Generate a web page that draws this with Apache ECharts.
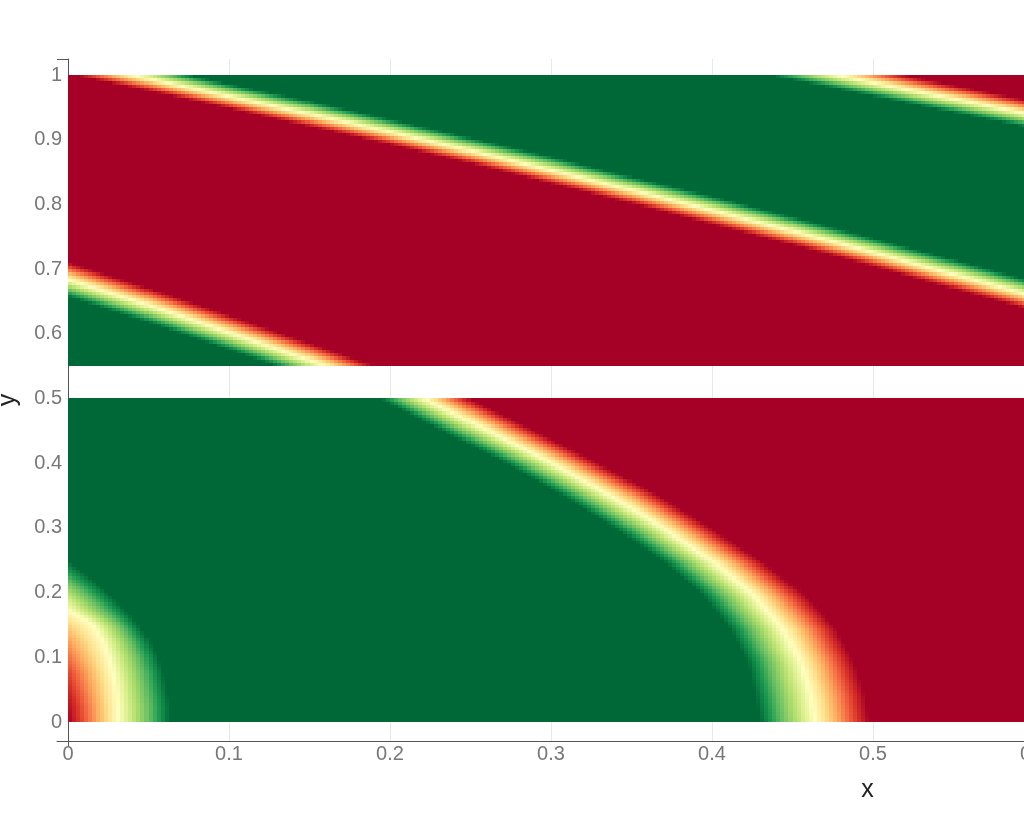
<!DOCTYPE html>
<html>
<head>
<meta charset="utf-8">
<script src="https://cdn.jsdelivr.net/npm/echarts@6/dist/echarts.min.js"></script>
<style>
html,body{margin:0;padding:0;background:#fff;}
#chart{width:1024px;height:819px;}
</style>
</head>
<body>
<div id="chart"></div>
<script>
// ---- tick labels ----
const xTickValues = [0, 0.1, 0.2, 0.3, 0.4, 0.5, 0.6, 0.7, 0.8, 0.9, 1];
const yTickValues = [0, 0.1, 0.2, 0.3, 0.4, 0.5, 0.6, 0.7, 0.8, 0.9, 1];

// ---- lower panel (y 0..0.5): outer band, yellow crossing x per row ----
const outerY      = [0, 0.041, 0.093, 0.144, 0.196, 0.247, 0.299, 0.350, 0.402, 0.454, 0.5];
const outerX      = [0.464, 0.461, 0.455, 0.444, 0.426, 0.401, 0.370, 0.337, 0.299, 0.258, 0.221];
const outerHalfW  = [0.034, 0.034, 0.033, 0.033, 0.032, 0.031, 0.030, 0.030, 0.029, 0.029, 0.028];

// ---- lower panel: inner corner ring ----
const innerY      = [0, 0.025, 0.05, 0.075, 0.1, 0.125, 0.15, 0.173, 0.2, 0.225, 0.25];
const innerX      = [0.0313, 0.031, 0.030, 0.0282, 0.0255, 0.0216, 0.0156, 0, null, null, null];
const innerGreenX = [0.063, 0.063, 0.061, 0.059, 0.056, 0.051, 0.044, 0.036, 0.025, 0.013, 0];
const innerZ0     = [-1, -0.95, -0.85, -0.75, -0.6, -0.45, -0.25, 0, 0.35, 0.7, 1];

// ---- upper panel (y 0.55..1): band yellow crossings y per column ----
const topX       = [0, 0.05, 0.1, 0.15, 0.2, 0.25, 0.3, 0.35, 0.4, 0.45, 0.5, 0.55, 0.6];
const bandAY     = [0.684, 0.644, 0.602, 0.559, 0.515, 0.47, null, null, null, null, null, null, null];
const bandBY     = [1.020, 0.994, 0.967, 0.940, 0.912, 0.883, 0.853, 0.822, 0.791, 0.759, 0.726, 0.692, 0.658];
const bandCY     = [null, null, null, null, null, null, null, null, 1.038, 1.013, 0.988, 0.963, 0.938];
const bandBHalfW = [0.019, 0.019, 0.019, 0.020, 0.020, 0.020, 0.021, 0.021, 0.022, 0.022, 0.022, 0.023, 0.023];
const bandAHalfW = 0.027;
const bandCHalfW = 0.021;

// panel extents
const lowerRange = [0, 0.5];
const upperRange = [0.55, 1];
const xRange = [0, 0.6];

// ---- colour scale (RdYlGn) ----
const colorStops = ['#a50026','#d73027','#f46d43','#fdae61','#fee08b','#ffffbf',
                    '#d9ef8b','#a6d96a','#66bd63','#1a9850','#006837'];

// ---- helpers building the cell table from the read arrays ----
function interp(xs, ys, v) {
  if (v <= xs[0]) return ys[0];
  for (let i = 0; i < xs.length - 1; i++) {
    if (v <= xs[i + 1]) {
      const a = ys[i], b = ys[i + 1];
      if (a === null || b === null) return null;
      const t = (v - xs[i]) / (xs[i + 1] - xs[i]);
      return a + (b - a) * t;
    }
  }
  return ys[ys.length - 1];
}
function clamp(v) { return Math.max(-1, Math.min(1, v)); }

function lowerZ(x, y) {
  const xo = interp(outerY, outerX, y);
  const wo = interp(outerY, outerHalfW, y);
  const zo = clamp((xo - x) / wo);
  let zi = 1;
  if (y <= innerY[innerY.length - 1]) {
    const z0 = interp(innerY, innerZ0, y);
    const xg = interp(innerY, innerGreenX, y);
    const xi = interp(innerY, innerX, y);
    if (x >= xg) zi = 1;
    else if (xi !== null && xi > 0) {
      zi = x < xi ? z0 + (0 - z0) * (x / xi) : (x - xi) / (xg - xi);
    } else {
      zi = z0 + (1 - z0) * (x / xg);
    }
  }
  return Math.min(zi, zo);
}
function upperZ(x, y) {
  const a = interp(topX, bandAY, x);
  const b = interp(topX, bandBY, x);
  const c = interp(topX, bandCY, x);
  const wb = interp(topX, bandBHalfW, x);
  if (a !== null && y < (a + b) / 2) return clamp((a - y) / bandAHalfW);
  if (c === null || y < (b + c) / 2) return clamp((y - b) / wb);
  return clamp((c - y) / bandCHalfW);
}

const DX = 0.0025, DY = 0.005;
const cells = [];
function addPanel(yr, fn) {
  const nx = Math.round((xRange[1] - xRange[0]) / DX);
  const ny = Math.round((yr[1] - yr[0]) / DY);
  const xe = [], ye = [];
  for (let i = 0; i <= nx; i++) xe.push(xRange[0] + i * DX);
  for (let j = 0; j <= ny; j++) ye.push(yr[0] + j * DY);
  for (let j = 0; j < ny; j++) {
    for (let i = 0; i < nx; i++) {
      cells.push([xe[i], ye[j], fn((xe[i] + xe[i + 1]) / 2, (ye[j] + ye[j + 1]) / 2), xe[i + 1], ye[j + 1]]);
    }
  }
}
addPanel(lowerRange, lowerZ);
addPanel(upperRange, upperZ);

// ---- chart ----
const PX_PER_X = 1610, PX_PER_Y = 647;
const xMin = -11 / PX_PER_X, xMax = 1;
const yMin = -19 / PX_PER_Y, yMax = 1 + 16 / PX_PER_Y;
const FONT = '"Liberation Sans", Arial, Helvetica, sans-serif';

const chart = echarts.init(document.getElementById('chart'), null, {renderer: 'canvas'});
chart.setOption({
  animation: false,
  backgroundColor: '#ffffff',
  grid: {left: 57, top: 59, width: Math.round((xMax - xMin) * PX_PER_X), height: 682,
         containLabel: false, outerBoundsMode: 'none'},
  visualMap: {
    type: 'continuous', show: false, min: -1, max: 1, dimension: 2, seriesIndex: 0,
    inRange: {color: colorStops}
  },
  xAxis: [{
    type: 'value', min: xMin, max: xMax, splitNumber: 10,
    name: 'x', nameLocation: 'middle', nameGap: 37,
    nameTextStyle: {color: '#222', fontSize: 25, fontFamily: FONT},
    axisLine: {show: true, onZero: false, lineStyle: {color: '#555', width: 1}},
    axisTick: {show: true, customValues: [0], length: 6, lineStyle: {color: '#555'}},
    axisLabel: {customValues: xTickValues, color: '#777', fontSize: 20, fontFamily: FONT, margin: 3,
      formatter: v => String(+(+v).toFixed(2))},
    splitLine: {show: false}
  }, {
    // grid-line carrier only
    type: 'value', min: xMin, max: xMax, splitNumber: 10, position: 'top',
    axisLine: {show: false}, axisTick: {show: false}, axisLabel: {show: false},
    splitLine: {show: true, showMinLine: false, lineStyle: {color: '#e8e8e8', width: 1}}
  }],
  yAxis: {
    type: 'value', min: yMin, max: yMax,
    name: 'y', nameLocation: 'middle', nameGap: 36,
    nameTextStyle: {color: '#222', fontSize: 25, fontFamily: FONT},
    axisLine: {show: true, onZero: true, onZeroAxisIndex: 0, lineStyle: {color: '#555', width: 1}},
    axisTick: {show: true, customValues: [yMax], length: 11, lineStyle: {color: '#555'}},
    axisLabel: {customValues: yTickValues, color: '#777', fontSize: 20, fontFamily: FONT, margin: -5,
      formatter: v => String(+(+v).toFixed(2))},
    splitLine: {show: false}
  },
  series: [{
    type: 'custom',
    coordinateSystem: 'cartesian2d',
    xAxisIndex: 0,
    progressive: 0,
    dimensions: ['x', 'y', 'z', 'x1', 'y1'],
    encode: {x: 0, y: 1},
    data: cells,
    clip: true,
    silent: true,
    renderItem: function (params, api) {
      const p0 = api.coord([api.value(0), api.value(4)]);
      const p1 = api.coord([api.value(3), api.value(1)]);
      const l = Math.round(p0[0]), t = Math.round(p0[1]);
      const r = Math.round(p1[0]), b = Math.round(p1[1]);
      return {type: 'rect', shape: {x: l, y: t, width: r - l, height: b - t},
              style: {fill: api.visual('color')}};
    }
  }]
});
</script>
</body>
</html>
